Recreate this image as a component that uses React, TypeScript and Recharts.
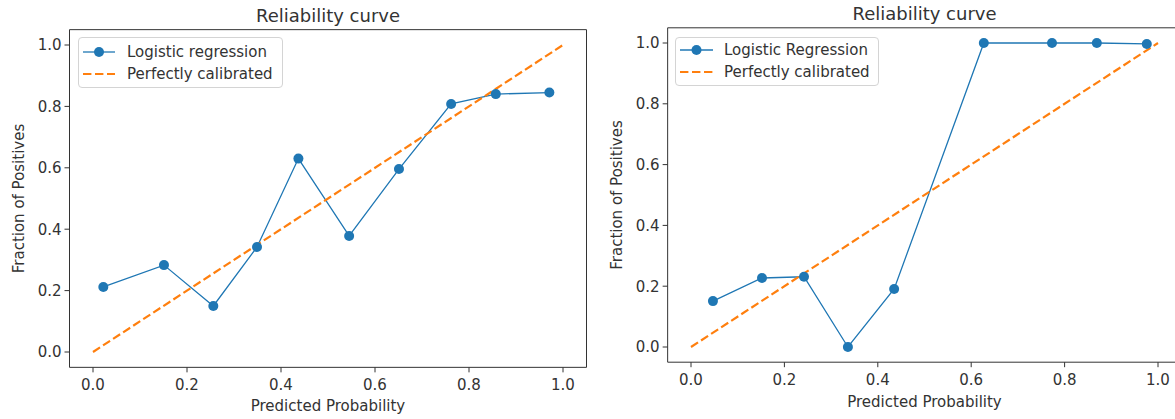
import React from 'react';
import { LineChart, Line, XAxis, YAxis, Legend, Label, ReferenceLine } from 'recharts';

const TICKS = [0, 0.2, 0.4, 0.6, 0.8, 1.0];
const DOMAIN: [number, number] = [-0.05, 1.05];

const leftPredicted = [0.022, 0.151, 0.256, 0.349, 0.437, 0.545, 0.651, 0.762, 0.857, 0.971];
const leftFraction = [0.212, 0.283, 0.15, 0.342, 0.63, 0.378, 0.596, 0.808, 0.84, 0.845];
const rightPredicted = [0.047, 0.152, 0.242, 0.336, 0.435, 0.627, 0.773, 0.869, 0.976];
const rightFraction = [0.151, 0.227, 0.231, 0.0, 0.191, 1.0, 1.0, 1.0, 0.997];
const diagonalX = [0, 1];
const diagonalY = [0, 1];

const titles = ['Reliability curve', 'Reliability curve'];
const seriesNames = ['Logistic regression', 'Logistic Regression'];
const refName = 'Perfectly calibrated';
const xLabel = 'Predicted Probability';
const yLabel = 'Fraction of Positives';

const BLUE = '#1f77b4';
const ORANGE = '#ff7f0e';
const AXIS = '#333333';
const FONT = '"DejaVu Sans", sans-serif';

const toPoints = (xs: number[], ys: number[]) => xs.map((x, i) => ({ x, y: ys[i] }));

type PanelCfg = {
  left: number;
  width: number;
  marginTop: number;
  marginRight: number;
  yAxisWidth: number;
  xAxisHeight: number;
  yLabelOffset: number;
  xLabelOffset: number;
  legendLeft: number;
  legendTop: number;
  legendW: number;
  legendH: number;
  legendPadTop: number;
  legendPadLeft: number;
  legendLineW: number;
  legendGap: number;
};

const panels: PanelCfg[] = [
  {
    left: 0, width: 600, marginTop: 29.65, marginRight: 13.5, yAxisWidth: 69.5, xAxisHeight: 51.65,
    yLabelOffset: 18.5, xLabelOffset: 8, legendLeft: 78, legendTop: 37, legendW: 205, legendH: 51,
    legendPadTop: 3, legendPadLeft: 4, legendLineW: 32, legendGap: 12,
  },
  {
    left: 600, width: 590, marginTop: 27.8, marginRight: 8.65, yAxisWidth: 67.65, xAxisHeight: 56.8,
    yLabelOffset: 16.5, xLabelOffset: 12, legendLeft: 75, legendTop: 37, legendW: 204, legendH: 49,
    legendPadTop: 1, legendPadLeft: 4, legendLineW: 33, legendGap: 11,
  },
];

const LegendBox = ({ cfg, name }: { cfg: PanelCfg; name: string }) => (
  <div
    style={{
      boxSizing: 'border-box', width: cfg.legendW, height: cfg.legendH, border: '1px solid #d4d4d4',
      borderRadius: 4, background: 'rgba(255,255,255,0.85)', paddingTop: cfg.legendPadTop,
      paddingLeft: cfg.legendPadLeft, fontFamily: FONT, fontSize: 15, color: '#333', lineHeight: '22px',
    }}
  >
    <div style={{ display: 'flex', alignItems: 'center', height: 22 }}>
      <svg width={cfg.legendLineW} height={12} style={{ display: 'block' }}>
        <line x1={0} y1={6} x2={cfg.legendLineW} y2={6} stroke={BLUE} strokeWidth={1.3} />
        <circle cx={cfg.legendLineW / 2} cy={6} r={5} fill={BLUE} />
      </svg>
      <span style={{ marginLeft: cfg.legendGap, whiteSpace: 'nowrap' }}>{name}</span>
    </div>
    <div style={{ display: 'flex', alignItems: 'center', height: 22 }}>
      <svg width={cfg.legendLineW} height={12} style={{ display: 'block' }}>
        <line x1={0} y1={6} x2={cfg.legendLineW} y2={6} stroke={ORANGE} strokeWidth={2.2} strokeDasharray="8.4 3.6" />
      </svg>
      <span style={{ marginLeft: cfg.legendGap, whiteSpace: 'nowrap' }}>{refName}</span>
    </div>
  </div>
);

const tickStyle = { fill: AXIS, fontSize: 15, fontFamily: FONT };
const fmt = (v: number) => v.toFixed(1);

const Panel = ({ cfg, idx, pts }: { cfg: PanelCfg; idx: number; pts: { x: number; y: number }[] }) => {
  const diag = toPoints(diagonalX, diagonalY);
  return (
    <div style={{ position: 'absolute', left: cfg.left, top: 0 }}>
      <LineChart
        width={cfg.width}
        height={419}
        margin={{ top: cfg.marginTop, right: cfg.marginRight, bottom: 0, left: 0 }}
      >
        <XAxis
          dataKey="x"
          type="number"
          domain={DOMAIN}
          ticks={TICKS}
          tickFormatter={fmt}
          height={cfg.xAxisHeight}
          stroke={AXIS}
          tick={tickStyle}
          tickSize={5}
          tickMargin={7}
          allowDataOverflow
        >
          <Label value={xLabel} position="insideBottom" offset={cfg.xLabelOffset} fill={AXIS} fontSize={15} fontFamily={FONT} />
        </XAxis>
        <YAxis
          dataKey="y"
          type="number"
          domain={DOMAIN}
          ticks={TICKS}
          tickFormatter={fmt}
          width={cfg.yAxisWidth}
          stroke={AXIS}
          tick={tickStyle}
          tickSize={5}
          tickMargin={3}
          allowDataOverflow
        >
          <Label
            value={yLabel}
            position="insideLeft"
            angle={-90}
            offset={cfg.yLabelOffset}
            textAnchor="middle"
            fill={AXIS}
            fontSize={15}
            fontFamily={FONT}
          />
        </YAxis>
        <ReferenceLine y={DOMAIN[1]} stroke={AXIS} strokeWidth={1} ifOverflow="visible">
          <Label value={titles[idx]} position="top" offset={8} fill={AXIS} fontSize={18} fontFamily={FONT} />
        </ReferenceLine>
        <ReferenceLine x={DOMAIN[1]} stroke={AXIS} strokeWidth={1} ifOverflow="visible" />
        <Line
          data={pts}
          dataKey="y"
          name={seriesNames[idx]}
          type="linear"
          stroke={BLUE}
          strokeWidth={1.3}
          dot={{ r: 5, fill: BLUE, stroke: BLUE, strokeWidth: 0 }}
          activeDot={false}
          isAnimationActive={false}
        />
        <Line
          data={diag}
          dataKey="y"
          name={refName}
          type="linear"
          stroke={ORANGE}
          strokeWidth={2.2}
          strokeDasharray="8.4 3.6"
          dot={false}
          activeDot={false}
          isAnimationActive={false}
        />
        <Legend
          layout="vertical"
          align="center"
          verticalAlign="middle"
          wrapperStyle={{ left: cfg.legendLeft, top: cfg.legendTop, width: cfg.legendW, height: cfg.legendH }}
          content={() => <LegendBox cfg={cfg} name={seriesNames[idx]} />}
        />
      </LineChart>
    </div>
  );
};

export default function App() {
  const leftPts = toPoints(leftPredicted, leftFraction);
  const rightPts = toPoints(rightPredicted, rightFraction);
  return (
    <div
      style={{
        position: 'absolute', left: 0, top: 0, width: 1175, height: 419, overflow: 'hidden',
        background: '#fff', fontFamily: FONT,
      }}
    >
      <Panel cfg={panels[0]} idx={0} pts={leftPts} />
      <Panel cfg={panels[1]} idx={1} pts={rightPts} />
    </div>
  );
}
